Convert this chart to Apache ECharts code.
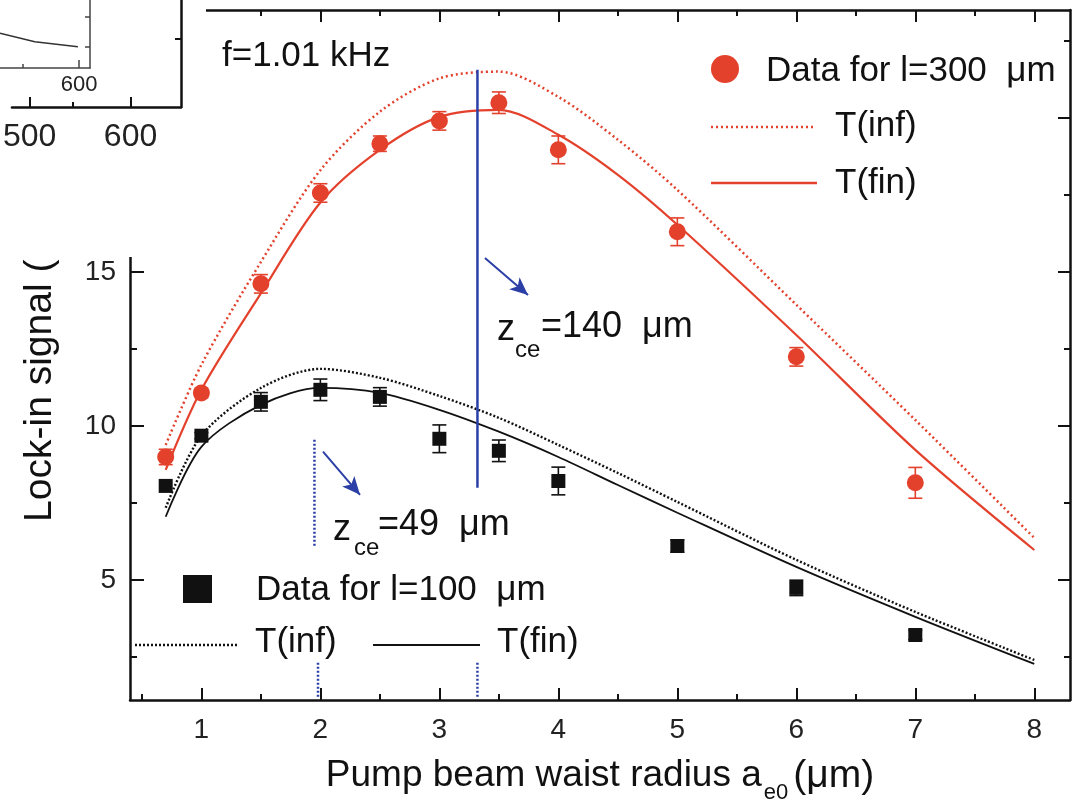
<!DOCTYPE html>
<html><head><meta charset="utf-8">
<script src="https://cdn.jsdelivr.net/npm/echarts@6/dist/echarts.min.js"></script>
<style>html,body{margin:0;padding:0;background:#fff}#c{width:1076px;height:811px}</style>
</head><body><div id="c"></div>
<script>
// ---------- data ----------
const xData = [0.7, 1, 1.5, 2, 2.5, 3, 3.5, 4, 5, 6, 7];
const red300 = [8.99, 11.07, 14.61, 17.56, 19.16, 19.90, 20.49, 18.96, 16.30, 12.24, 8.15];
const red300Err = [0.25, 0.15, 0.3, 0.3, 0.25, 0.3, 0.35, 0.45, 0.45, 0.3, 0.5];
const black100 = [8.05, 9.68, 10.78, 11.17, 10.94, 9.58, 9.19, 8.21, 6.10, 4.74, 3.21];
const black100Err = [0, 0.1, 0.3, 0.35, 0.3, 0.45, 0.35, 0.45, 0.2, 0.25, 0.15];
const curveX = [0.7, 1, 1.5, 2, 2.5, 3, 3.5, 4, 4.5, 5, 6, 7, 8];
const redTinf = [9.38, 11.98, 15.32, 18.30, 20.20, 21.28, 21.50, 20.68, 19.29, 17.66, 13.93, 10.19, 6.36];
const redTfin = [8.57, 11.17, 14.30, 17.25, 18.96, 20.03, 20.26, 19.45, 18.15, 16.53, 12.95, 9.22, 5.97];
const blackTinf = [7.34, 9.68, 11.23, 11.85, 11.56, 10.97, 10.26, 9.38, 8.47, 7.53, 5.65, 3.96, 2.40];
const blackTfin = [7.05, 9.32, 10.68, 11.23, 11.07, 10.52, 9.81, 8.99, 8.08, 7.18, 5.42, 3.80, 2.27];
const xMajorTicks = [1, 2, 3, 4, 5, 6, 7, 8];
const xMinorTicks = [0.5, 1.5, 2.5, 3.5, 4.5, 5.5, 6.5, 7.5];
const yMajorTicks = [5, 10, 15, 20];
const yMinorTicks = [2.5, 7.5, 12.5, 17.5, 22.5];
const yTickLabels = [5, 10, 15];
// blue annotation guides (data space)
const zce140Line = [[3.32, 21.56], [3.32, 7.99]];
const zce140Stub = [[3.32, 2.31], [3.32, 1.2]];
const zce49Line = [[1.95, 9.55], [1.95, 6.04]];
const zce49Stub = [[1.98, 2.31], [1.98, 1.2]];
const arrow140 = [[3.383, 15.45], [3.745, 14.25]];
const arrow49 = [[2.022, 9.16], [2.333, 7.76]];
// fragment of neighbouring panel (top-left)
const fragOuterTicks = [500, 600];
const fragOuterMinor = [550];
const fragInnerX = [458.9, 521, 598];
const fragInnerY = [34.7, 26.3, 21.3];

// ---------- style ----------
const F = "'Liberation Sans', Arial, Helvetica, sans-serif";
const RED = '#e4412d', BLK = '#111111', BLUE = '#2b3fa6';
const X_MIN = 0.4, X_MAX = 8.3, Y_MIN = 1.1, Y_MAX = 23.5;
const zip = (a, b) => a.map((v, i) => [v, b[i]]);

function ax(o) {
  return Object.assign({
    type: 'value', splitLine: { show: false }, axisLine: { show: false },
    axisTick: { show: false }, axisLabel: { show: false }
  }, o);
}
const line = (w, c) => ({ show: true, onZero: false, lineStyle: { color: c || BLK, width: w } });
const tick = (len, vals, w, c) => ({ show: true, inside: true, length: len, customValues: vals, lineStyle: { color: c || BLK, width: w || 2 } });

const mainGrid = { left: 130, right: 6, top: 10, bottom: 111 };
const grids = [mainGrid, mainGrid, mainGrid, mainGrid,
  { left: 0, top: 0, width: 181, height: 107 }, { left: 0, top: 0, width: 181, height: 107 },
  { left: 0, top: 0, width: 90, height: 68 }, { left: 0, top: 0, width: 90, height: 68 }];

const xAxes = [
  ax({ gridIndex: 0, position: 'bottom', min: X_MIN, max: X_MAX, axisLine: line(2.5), axisTick: tick(12, xMajorTicks),
    axisLabel: { show: true, customValues: xMajorTicks, fontSize: 28, fontFamily: F, color: '#222', margin: 16 },
    name: '{t|Pump beam waist radius a}{s|e0}{p|(μm)}', nameLocation: 'middle', nameGap: 48,
    nameTextStyle: { color: BLK, fontFamily: F, fontSize: 37, rich: {
      t: { fontSize: 37, fontFamily: F, color: BLK, lineHeight: 56 },
      s: { fontSize: 22, fontFamily: F, color: BLK, verticalAlign: 'bottom', lineHeight: 26, padding: [0, 5, 0, 2] },
      p: { fontSize: 39, fontFamily: F, color: BLK, lineHeight: 56 } } } }),
  ax({ gridIndex: 1, position: 'bottom', min: X_MIN, max: X_MAX, axisTick: tick(6, xMinorTicks) }),
  ax({ gridIndex: 2, position: 'top', min: X_MIN, max: X_MAX, axisLine: line(2.5), axisTick: tick(12, xMajorTicks) }),
  ax({ gridIndex: 3, position: 'top', min: X_MIN, max: X_MAX, axisTick: tick(6, xMinorTicks) }),
  ax({ gridIndex: 4, position: 'bottom', min: 482.4, max: 650, z: 60, axisLine: line(2.5), axisTick: tick(10, fragOuterTicks),
    axisLabel: { show: true, customValues: fragOuterTicks, fontSize: 32, fontFamily: F, color: '#222', margin: 14 } }),
  ax({ gridIndex: 5, position: 'bottom', min: 482.4, max: 650, z: 60, axisTick: tick(5, fragOuterMinor) }),
  ax({ gridIndex: 6, position: 'bottom', min: 458.9, max: 619.6, z: 60, axisLine: line(1.5, '#444'), axisTick: tick(8, [600], 1.5, '#444'),
    axisLabel: { show: true, customValues: [600], fontSize: 22, fontFamily: F, color: '#222', margin: 6 } }),
  ax({ gridIndex: 7, position: 'bottom', min: 458.9, max: 619.6, z: 60, axisTick: tick(4, [500], 1.5, '#444') })
];
const yAxes = [
  ax({ gridIndex: 0, position: 'left', min: Y_MIN, max: Y_MAX, axisLine: line(2.5), axisTick: tick(14, yMajorTicks),
    axisLabel: { show: true, customValues: yTickLabels, fontSize: 28, fontFamily: F, color: '#222', margin: 14 },
    name: 'Lock-in signal (mV)', nameLocation: 'middle', nameRotate: 90, nameGap: 70,
    nameTextStyle: { color: BLK, fontFamily: F, fontSize: 39 } }),
  ax({ gridIndex: 1, position: 'left', min: Y_MIN, max: Y_MAX, axisTick: tick(7, yMinorTicks) }),
  ax({ gridIndex: 2, position: 'right', min: Y_MIN, max: Y_MAX, axisLine: line(2.5), axisTick: tick(12, yMajorTicks) }),
  ax({ gridIndex: 3, position: 'right', min: Y_MIN, max: Y_MAX, axisTick: tick(6, yMinorTicks) }),
  ax({ gridIndex: 4, position: 'right', min: 0, max: 107, z: 60, axisLine: line(2.5), axisTick: tick(6, [68]) }),
  ax({ gridIndex: 5, position: 'right', min: 0, max: 107 }),
  ax({ gridIndex: 6, position: 'right', min: 0, max: 68, z: 60, axisLine: line(1.5, '#444'), axisTick: tick(5, [51, 21], 1.5, '#444') }),
  ax({ gridIndex: 7, position: 'right', min: 0, max: 68 })
];

function errBars(color) {
  return function (params, api) {
    const x = api.value(0), lo = api.value(1), hi = api.value(2);
    if (hi - lo <= 0) return null;
    const a = api.coord([x, hi]), b = api.coord([x, lo]), w = 7;
    const st = { stroke: color, lineWidth: 1.6 };
    return { type: 'group', children: [
      { type: 'line', shape: { x1: a[0], y1: a[1], x2: b[0], y2: b[1] }, style: st },
      { type: 'line', shape: { x1: a[0] - w, y1: a[1], x2: a[0] + w, y2: a[1] }, style: st },
      { type: 'line', shape: { x1: b[0] - w, y1: b[1], x2: b[0] + w, y2: b[1] }, style: st }
    ] };
  };
}
const errData = (vals, errs) => xData.map((x, i) => [x, vals[i] - errs[i], vals[i] + errs[i]]);
const guide = (data, dotted, w) => ({ type: 'line', data: data, symbol: 'none', silent: true, z: 6,
  lineStyle: { color: BLUE, width: w || 2.5, type: dotted ? [2, 2] : 'solid' } });
const arrowMark = (pts) => ({ symbol: ['none', 'arrow'], symbolSize: [12, 18], silent: true, label: { show: false },
  lineStyle: { color: BLUE, width: 2, type: 'solid' }, data: [[{ coord: pts[0] }, { coord: pts[1] }]] });

const series = [
  { type: 'line', name: 'T(inf) 300', data: zip(curveX, redTinf), symbol: 'none', smooth: 0.3, z: 3,
    lineStyle: { color: RED, width: 2.5, type: [2, 3] } },
  { type: 'line', name: 'T(fin) 300', data: zip(curveX, redTfin), symbol: 'none', smooth: 0.3, z: 3,
    lineStyle: { color: RED, width: 2.2 } },
  { type: 'line', name: 'T(inf) 100', data: zip(curveX, blackTinf), symbol: 'none', smooth: 0.3, z: 3,
    lineStyle: { color: BLK, width: 2.4, type: [2, 2] } },
  { type: 'line', name: 'T(fin) 100', data: zip(curveX, blackTfin), symbol: 'none', smooth: 0.3, z: 3,
    lineStyle: { color: BLK, width: 1.8 } },
  { type: 'custom', name: 'err300', data: errData(red300, red300Err), renderItem: errBars(RED), z: 4,
    encode: { x: 0, y: [1, 2] } },
  { type: 'custom', name: 'err100', data: errData(black100, black100Err), renderItem: errBars(BLK), z: 4,
    encode: { x: 0, y: [1, 2] } },
  { type: 'scatter', name: 'Data for l=300 μm', data: zip(xData, red300), symbol: 'circle', symbolSize: 17, z: 5,
    itemStyle: { color: RED, opacity: 1 } },
  { type: 'scatter', name: 'Data for l=100 μm', data: zip(xData, black100), symbol: 'rect', symbolSize: 14, z: 5,
    itemStyle: { color: BLK, opacity: 1 } },
  Object.assign(guide(zce140Line, false, 2.5), { markLine: arrowMark(arrow140) }),
  guide(zce140Stub, true, 2.5),
  Object.assign(guide(zce49Line, true, 2.5), { markLine: arrowMark(arrow49) }),
  guide(zce49Stub, true, 2.5),
  { type: 'line', xAxisIndex: 6, yAxisIndex: 6, data: zip(fragInnerX, fragInnerY), symbol: 'none', z: 60,
    lineStyle: { color: '#333', width: 1.5 } }
];

const txt = (s, x, y, size, extra) => Object.assign({ type: 'text', x: x, y: y, z: 10, silent: true,
  style: { text: s, font: size + 'px ' + F, fill: BLK, textAlign: 'left', textVerticalAlign: 'middle' } }, extra || {});
const seg = (x1, y1, x2, y2, c, w, dash) => ({ type: 'line', z: 10, silent: true,
  shape: { x1: x1, y1: y1, x2: x2, y2: y2 }, style: { stroke: c, lineWidth: w, lineDash: dash || null } });

const graphics = [
  { type: 'rect', z: 50, silent: true, shape: { x: 0, y: 0, width: 206, height: 257 }, style: { fill: '#fff' } },
  txt('f=1.01 kHz', 222, 56, 35),
  // red legend
  { type: 'circle', z: 10, silent: true, shape: { cx: 725, cy: 69, r: 14 }, style: { fill: RED } },
  txt('Data for l=300  μm', 766, 71, 35),
  seg(711, 127, 815, 127, RED, 2.5, [2, 3]),
  txt('T(inf)', 835, 126, 35),
  seg(711, 183, 817, 183, RED, 2.5),
  txt('T(fin)', 835, 183, 35),
  // black legend
  { type: 'rect', z: 10, silent: true, shape: { x: 183, y: 575, width: 29, height: 28 }, style: { fill: BLK } },
  txt('Data for l=100  μm', 256, 590, 35),
  seg(135, 645, 237, 645, BLK, 2.5, [2, 2]),
  txt('T(inf)', 255, 642, 35),
  seg(373, 645, 480, 645, BLK, 2),
  txt('T(fin)', 497, 642, 35),
  // z_ce labels
  txt('z', 497, 330, 36), txt('ce', 515, 350, 24), txt('=140  μm', 541, 327, 36),
  txt('z', 333, 530, 36), txt('ce', 354, 548, 24), txt('=49  μm', 378, 525, 36)
];

const chart = echarts.init(document.getElementById('c'), null, { renderer: 'canvas' });
chart.setOption({
  animation: false, backgroundColor: '#fff',
  grid: grids, xAxis: xAxes, yAxis: yAxes, series: series,
  graphic: { elements: graphics }
});
</script></body></html>
